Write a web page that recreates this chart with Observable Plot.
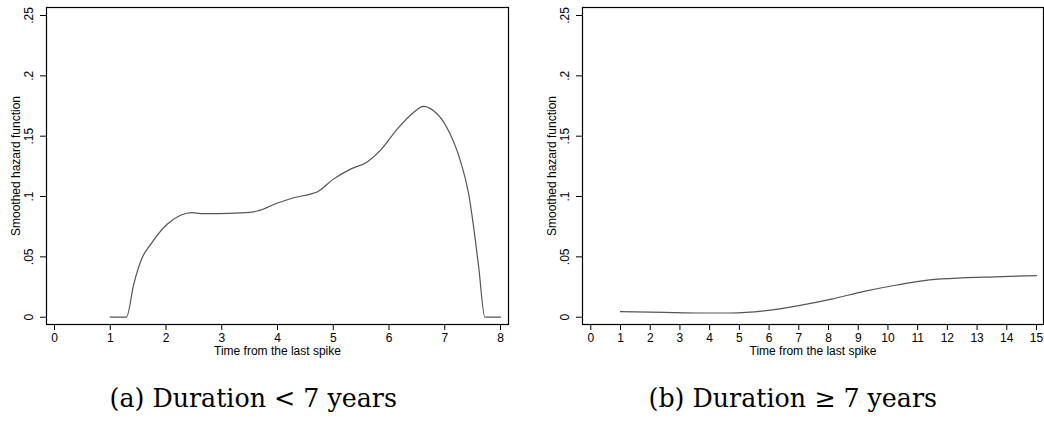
<!DOCTYPE html>
<html><head><meta charset="utf-8">
<script src="https://cdn.jsdelivr.net/npm/d3@7"></script>
<script src="https://cdn.jsdelivr.net/npm/@observablehq/plot@0.6"></script>
<style>
body{margin:0;background:#fff}
#wrap{position:relative;width:1044px;height:431px;overflow:hidden;background:#fff}
.panel{position:absolute;top:0}
.cap{position:absolute;font-family:"DejaVu Serif","Liberation Serif",serif;font-size:21px;line-height:1;text-align:center;white-space:nowrap;color:#000}
</style></head><body>
<div id="wrap"></div>
<script>
// Panel (a): Duration < 7 years
const timeA   = [1.0, 1.29, 1.42, 1.57, 1.72, 2.02, 2.26, 2.47, 2.62, 2.92, 3.34, 3.64, 3.99, 4.29, 4.59, 4.71, 4.99, 5.31, 5.61, 5.85, 6.15, 6.44, 6.62, 6.80, 7.04, 7.28, 7.43, 7.52, 7.61, 7.72, 8.0];
const hazardA = [0, 0, 0.027, 0.049, 0.060, 0.077, 0.0845, 0.0866, 0.0858, 0.0858, 0.0864, 0.088, 0.0944, 0.099, 0.102, 0.1038, 0.114, 0.1227, 0.1287, 0.1384, 0.156, 0.1697, 0.1747, 0.171, 0.157, 0.1296, 0.102, 0.074, 0.041, 0, 0];
// Panel (b): Duration >= 7 years
const timeB   = [1, 2.5, 3.6, 4.7, 5.9, 7.0, 8.1, 9.2, 10.3, 11.4, 12.5, 13.6, 15];
const hazardB = [0.0046, 0.004, 0.0035, 0.0035, 0.0054, 0.0096, 0.015, 0.0214, 0.0267, 0.0309, 0.0326, 0.0334, 0.0345];

const yTicks = [0, 0.05, 0.1, 0.15, 0.2, 0.25];
const xTicksA = d3.range(0, 9);
const xTicksB = d3.range(0, 16);
const yLabel = "Smoothed hazard function";
const xLabel = "Time from the last spike";
const captions = ["(a) Duration < 7 years", "(b) Duration \u2265 7 years"];

const fmtY = d => d === 0 ? "0" : String(+d.toFixed(2)).replace(/^0/, "");

function panel({times, haz, width, marginLeft, marginRight, domain, range, ticks}) {
  const data = times.map((t, i) => ({t, h: haz[i]}));
  return Plot.plot({
    width, height: 365,
    marginTop: 7, marginBottom: 41, marginLeft, marginRight,
    style: {fontFamily: "'Liberation Sans', Arial, sans-serif", fontSize: "12px", color: "#000", background: "#fff", overflow: "visible"},
    x: {domain, range},
    y: {domain: [0, 0.25], range: [316.7, 15]},
    marks: [
      Plot.frame({stroke: "#000", strokeWidth: 1.2}),
      Plot.axisY({ticks: yTicks, tickSize: 6, tickPadding: 8, tickRotate: -90, tickFormat: fmtY,
        label: yLabel, labelAnchor: "center", labelArrow: "none", labelOffset: 35}),
      Plot.axisX({ticks, tickSize: 6, tickFormat: d => String(d),
        label: xLabel, labelAnchor: "center", labelArrow: "none", labelOffset: 30}),
      Plot.line(data, {x: "t", y: "h", stroke: "#555", strokeWidth: 1.2, curve: "monotone-x"})
    ]
  });
}

const wrap = document.getElementById("wrap");
const a = panel({times: timeA, haz: hazardA, width: 520, marginLeft: 46, marginRight: 12,
  domain: [0, 8], range: [54, 500], ticks: xTicksA});
a.classList.add("panel"); a.style.left = "0px";
wrap.appendChild(a);
const b = panel({times: timeB, haz: hazardB, width: 524, marginLeft: 62, marginRight: 1,
  domain: [0, 15], range: [70.3, 516], ticks: xTicksB});
b.classList.add("panel"); b.style.left = "520px";
wrap.appendChild(b);

const caps = [[253, captions[0]], [793, captions[1]]].map(([cx, txt]) => {
  const d = document.createElement("div");
  d.className = "cap"; d.textContent = txt;
  wrap.appendChild(d);
  return [cx, d];
});
// fit caption font so that caption (a) spans about 287px as in the reference
const fs = 21 * 287 / caps[0][1].offsetWidth;
caps.forEach(([cx, d]) => {
  d.style.fontSize = fs + "px";
  d.style.left = (cx - d.offsetWidth / 2) + "px";
  d.style.top = (407 - 0.845 * fs) + "px";
});
</script>
</body></html>
